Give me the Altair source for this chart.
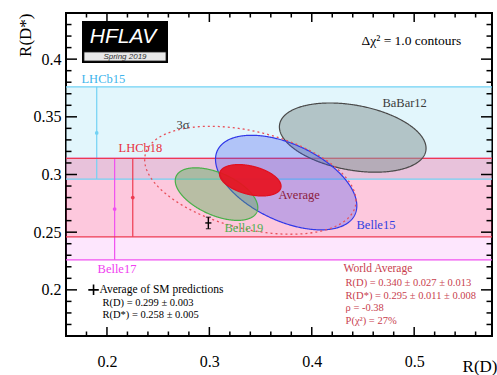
import numpy as np
import pandas as pd
import altair as alt

# ---------------------------------------------------------------- data
# one-dimensional R(D*) measurements (drawn as horizontal bands)
band_names = ["LHCb15", "Belle17", "LHCb18"]
band_value = [0.336, 0.270, 0.280]
band_error = [0.040, 0.044, 0.034]
band_xpos = [0.190, 0.2075, 0.2252]          # where each marker sits in R(D)
band_fill = ["#c6edfa", "#f040f0", "#ff4050"]
band_opacity = [0.5, 0.13, 0.18]
band_line = ["#72d2f4", "#f050f0", "#ee3a50"]

# two-dimensional measurements: R(D), R(D*), total errors and correlation
ell_names = ["BaBar12", "Belle15", "Belle19", "Average"]
ell_rd = [0.440, 0.375, 0.307, 0.340]
ell_rds = [0.332, 0.293, 0.283, 0.295]
ell_srd = [0.0716, 0.069, 0.0403, 0.030]
ell_srds = [0.030, 0.041, 0.0228, 0.0136]
ell_rho = [-0.31, -0.49, -0.51, -0.38]
ell_fill = ["#8a9a9a", "#4050f0", "#50b050", "#e8101e"]
ell_opacity = [0.55, 0.30, 0.40, 0.92]
ell_stroke = ["#4a4a4a", "#3038e8", "#48b048", "#e01020"]

# Standard Model average
sm_rd, sm_rd_err = 0.299, 0.003
sm_rds, sm_rds_err = 0.258, 0.005

# 3 sigma contour of the world average (2 dof)
dchi2_3sigma = 11.83

# axis ticks
x_major = [0.2, 0.3, 0.4, 0.5]
x_minor = [0.18, 0.22, 0.24, 0.26, 0.28, 0.32, 0.34, 0.36, 0.38,
           0.42, 0.44, 0.46, 0.48, 0.52, 0.54, 0.56]
y_major = [0.2, 0.25, 0.3, 0.35, 0.4]
y_minor = [0.17, 0.18, 0.19, 0.21, 0.22, 0.23, 0.24, 0.26, 0.27, 0.28,
           0.29, 0.31, 0.32, 0.33, 0.34, 0.36, 0.37, 0.38, 0.39, 0.41,
           0.42, 0.43]

# text labels (data coordinates)
lab_text = ["LHCb15", "LHCb18", "3σ", "BaBar12", "Average", "Belle15",
            "Belle19", "Belle17"]
lab_x = [0.1751, 0.2113, 0.268, 0.469, 0.3675, 0.4437, 0.3147, 0.1908]
lab_y = [0.383, 0.3234, 0.343, 0.3622, 0.282, 0.2565, 0.254, 0.2178]
lab_color = ["#40b4ec", "#e8303e", "#404040", "#3a3a3a", "#8c2040",
             "#3040e0", "#50b050", "#f040f0"]

wa_lines = ["World Average", "R(D) = 0.340 ± 0.027 ± 0.013",
            "R(D*) = 0.295 ± 0.011 ± 0.008", "ρ = -0.38", "P(χ²) = 27%"]
wa_y = [0.2178, 0.2057, 0.1945, 0.1841, 0.1728]
wa_size = [11.5, 10.5, 10.5, 10.5, 10.5]

sm_lines = ["Average of SM predictions", "R(D) = 0.299 ± 0.003",
            "R(D*) = 0.258 ± 0.005"]
sm_x = [0.1927, 0.1956, 0.1956]
sm_y = [0.200, 0.1884, 0.1780]
sm_size = [11.5, 10.5, 10.5]

# ---------------------------------------------------------------- layout
W, H = 426, 323
XDOM = [0.16, 0.576]
YDOM = [0.16, 0.44]
SERIF = "Liberation Serif"

xs = alt.Scale(domain=XDOM, nice=False, zero=False)
ys = alt.Scale(domain=YDOM, nice=False, zero=False)

xaxis = alt.Axis(values=x_major, format=".1f", domain=False, ticks=False,
                 grid=False, labelPadding=17, labelOverlap=False,
                 title="R(D)", titleAlign="right", titleX=W + 5, titleY=35,
                 titleBaseline="alphabetic")
yaxis = alt.Axis(values=y_major, format=".2~f", domain=False, ticks=False,
                 grid=False, labelPadding=5, labelOverlap=False,
                 title="R(D*)", titleAngle=270, titleAlign="right",
                 titleX=-36, titleY=0, titleBaseline="alphabetic")


def X(field):
    return alt.X(field, type="quantitative", scale=xs, axis=xaxis)


def Y(field):
    return alt.Y(field, type="quantitative", scale=ys, axis=yaxis)


def ellipse_area(cx, cy, sx, sy, rho, k, n=240):
    """Upper/lower branch of a Delta-chi2 = k contour, sampled along R(D)."""
    th = np.linspace(np.pi, 0, n)
    t = np.sqrt(k) * np.cos(th)
    root = np.sqrt(np.clip((1 - rho ** 2) * (k - t ** 2), 0, None))
    return pd.DataFrame({"x": cx + sx * t,
                         "lo": cy + sy * (rho * t - root),
                         "hi": cy + sy * (rho * t + root)})


def ellipse_path(cx, cy, sx, sy, rho, k, n=240):
    """Closed parametric Delta-chi2 = k contour."""
    th = np.linspace(0, 2 * np.pi, n)
    r = np.sqrt(k)
    return pd.DataFrame({
        "i": np.arange(n),
        "x": cx + sx * r * np.cos(th),
        "y": cy + sy * r * (rho * np.cos(th) + np.sqrt(1 - rho ** 2) * np.sin(th)),
    })


layers = []

# horizontal bands of the R(D*)-only measurements
for i, name in enumerate(band_names):
    lo = band_value[i] - band_error[i]
    hi = band_value[i] + band_error[i]
    d = pd.DataFrame({"lo": [lo], "hi": [hi]})
    layers.append(alt.Chart(d).mark_rect(color=band_fill[i],
                                         opacity=band_opacity[i]).encode(
        x=alt.value(0), x2=alt.value(W), y=Y("lo"), y2="hi"))
for i, name in enumerate(band_names):
    lo = band_value[i] - band_error[i]
    hi = band_value[i] + band_error[i]
    d = pd.DataFrame({"y": [lo, hi]})
    layers.append(alt.Chart(d).mark_rule(color=band_line[i], strokeWidth=1.2).encode(
        x=alt.value(0), x2=alt.value(W), y=Y("y")))
    e = pd.DataFrame({"x": [band_xpos[i]], "lo": [lo], "hi": [hi],
                      "v": [band_value[i]]})
    layers.append(alt.Chart(e).mark_rule(color=band_line[i], strokeWidth=1.2).encode(
        x=X("x"), y=Y("lo"), y2="hi"))
    layers.append(alt.Chart(e).mark_point(filled=True, color=band_line[i],
                                          size=14, opacity=1).encode(
        x=X("x"), y=Y("v")))

# Delta-chi2 = 1 contours
for i, name in enumerate(ell_names):
    d = ellipse_area(ell_rd[i], ell_rds[i], ell_srd[i], ell_srds[i], ell_rho[i], 1.0)
    layers.append(alt.Chart(d).mark_area(
        color=ell_fill[i], fillOpacity=ell_opacity[i], stroke=ell_stroke[i],
        strokeWidth=1.2, strokeOpacity=1, interpolate="linear").encode(
        x=X("x"), y=Y("lo"), y2="hi"))

# 3 sigma contour of the average
d3 = ellipse_path(ell_rd[3], ell_rds[3], ell_srd[3], ell_srds[3], ell_rho[3],
                  dchi2_3sigma)
layers.append(alt.Chart(d3).mark_line(color="#e8505a", strokeWidth=1.3,
                                      strokeDash=[2, 3]).encode(
    x=X("x"), y=Y("y"), order="i:Q"))

# Standard Model point with its error bars
sm = pd.DataFrame({"x": [sm_rd], "y": [sm_rds],
                   "xlo": [sm_rd - sm_rd_err], "xhi": [sm_rd + sm_rd_err],
                   "ylo": [sm_rds - sm_rds_err], "yhi": [sm_rds + sm_rds_err]})
layers.append(alt.Chart(sm).mark_rule(color="black", strokeWidth=1.4).encode(
    x=X("xlo"), x2="xhi", y=Y("y")))
layers.append(alt.Chart(sm).mark_rule(color="black", strokeWidth=1.4).encode(
    x=X("x"), y=Y("ylo"), y2="yhi"))
layers.append(alt.Chart(sm).mark_tick(color="black", thickness=1.2, size=5,
                                      orient="horizontal").encode(
    x=X("x"), y=Y("ylo")))
layers.append(alt.Chart(sm).mark_tick(color="black", thickness=1.2, size=5,
                                      orient="horizontal").encode(
    x=X("x"), y=Y("yhi")))

# legend cross for the SM average
leg = pd.DataFrame({"x": [0.1869], "y": [0.200]})
layers.append(alt.Chart(leg).mark_point(
    shape="M-1,0L1,0M0,-1L0,1", size=110, color="black", strokeWidth=1.6,
    opacity=1).encode(x=X("x"), y=Y("y")))

# labels
labs = pd.DataFrame({"t": lab_text, "x": lab_x, "y": lab_y, "c": lab_color})
layers.append(alt.Chart(labs).mark_text(align="left", baseline="middle",
                                        font=SERIF, fontSize=12.5).encode(
    x=X("x"), y=Y("y"), text="t:N", color=alt.Color("c:N", scale=None)))

wa = pd.DataFrame({"t": wa_lines, "y": wa_y, "s": wa_size,
                   "x": [0.431] + [0.433] * 4})
layers.append(alt.Chart(wa).mark_text(align="left", baseline="middle",
                                      font=SERIF, color="#c8404e").encode(
    x=X("x"), y=Y("y"), text="t:N", size=alt.Size("s:Q", scale=None)))

smt = pd.DataFrame({"t": sm_lines, "x": sm_x, "y": sm_y, "s": sm_size})
layers.append(alt.Chart(smt).mark_text(align="left", baseline="middle",
                                       font=SERIF, color="black").encode(
    x=X("x"), y=Y("y"), text="t:N", size=alt.Size("s:Q", scale=None)))

cont = pd.DataFrame({"t": ["Δχ² = 1.0 contours"], "x": [0.4486], "y": [0.416]})
layers.append(alt.Chart(cont).mark_text(align="left", baseline="middle",
                                        font=SERIF, fontSize=13.5,
                                        color="black").encode(
    x=X("x"), y=Y("y"), text="t:N"))

# HFLAV badge
one = pd.DataFrame({"k": [0]})
layers.append(alt.Chart(one).mark_rect(color="black").encode(
    x=alt.value(16), x2=alt.value(102), y=alt.value(8), y2=alt.value(50)))
layers.append(alt.Chart(one).mark_rect(color="#e8e8e8", stroke="#222222",
                                       strokeWidth=0.8).encode(
    x=alt.value(18), x2=alt.value(100), y=alt.value(39), y2=alt.value(48)))
layers.append(alt.Chart(one).mark_text(
    text="HFLAV", font="Liberation Sans", fontSize=21, fontStyle="italic",
    color="white", align="center", baseline="alphabetic").encode(
    x=alt.value(57), y=alt.value(30)))
layers.append(alt.Chart(one).mark_text(
    text="Spring 2019", font="Liberation Sans", fontSize=8, fontStyle="italic",
    color="#333333", align="center", baseline="middle").encode(
    x=alt.value(59), y=alt.value(44)))

# inward tick marks on all four sides
for vals, L in ((x_major, 9), (x_minor, 4.5)):
    d = pd.DataFrame({"v": vals})
    layers.append(alt.Chart(d).mark_rule(color="black", strokeWidth=1.5).encode(
        x=X("v"), y=alt.value(H), y2=alt.value(H - L)))
    layers.append(alt.Chart(d).mark_rule(color="black", strokeWidth=1.5).encode(
        x=X("v"), y=alt.value(0), y2=alt.value(L)))
for vals, L in ((y_major, 11), (y_minor, 5.5)):
    d = pd.DataFrame({"v": vals})
    layers.append(alt.Chart(d).mark_rule(color="black", strokeWidth=1.5).encode(
        y=Y("v"), x=alt.value(0), x2=alt.value(L)))
    layers.append(alt.Chart(d).mark_rule(color="black", strokeWidth=1.5).encode(
        y=Y("v"), x=alt.value(W), x2=alt.value(W - L)))

chart = alt.layer(*layers).properties(
    width=W, height=H,
    autosize=alt.AutoSizeParams(type="none"),
    padding={"left": 66, "top": 13, "right": 5, "bottom": 39},
    background="white",
).configure_view(
    stroke="black", strokeWidth=2
).configure_axis(
    labelFont=SERIF, labelFontSize=16, labelColor="black",
    titleFont=SERIF, titleFontSize=17, titleFontWeight="normal",
    titleColor="black",
)

chart.save("out.html", embed_options={"renderer": "svg", "actions": False})
